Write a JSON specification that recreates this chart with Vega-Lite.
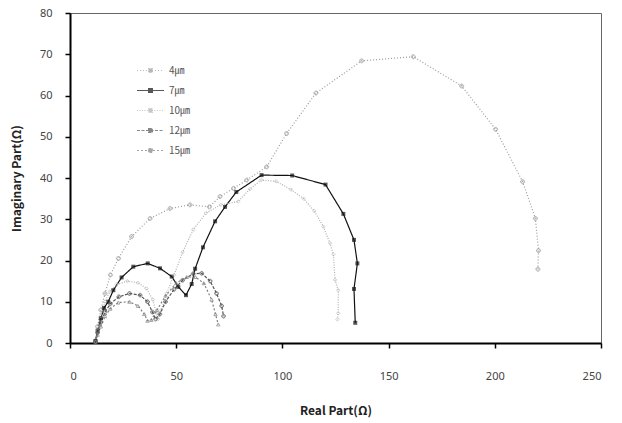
{
  "$schema": "https://vega.github.io/schema/vega-lite/v6.json",
  "width": 531,
  "height": 330,
  "autosize": "none",
  "padding": {"left": 70, "top": 13, "right": 21, "bottom": 80},
  "background": "white",
  "config": {
    "view": {"stroke": "#666", "strokeWidth": 1},
    "font": "Noto Sans"
  },
  "data": {
    "values": [
      {"s":"4㎛","i":0,"x":12,"y":0.5},{"s":"4㎛","i":1,"x":13,"y":4},{"s":"4㎛","i":2,"x":14.5,"y":8},{"s":"4㎛","i":3,"x":16.5,"y":12},{"s":"4㎛","i":4,"x":19,"y":16.5},{"s":"4㎛","i":5,"x":22.8,"y":20.5},{"s":"4㎛","i":6,"x":29,"y":25.8},{"s":"4㎛","i":7,"x":37.7,"y":30.2},{"s":"4㎛","i":8,"x":47.1,"y":32.6},{"s":"4㎛","i":9,"x":56.5,"y":33.5},{"s":"4㎛","i":10,"x":65.6,"y":33},{"s":"4㎛","i":11,"x":70.6,"y":35.5},{"s":"4㎛","i":12,"x":77,"y":37.5},{"s":"4㎛","i":13,"x":83.2,"y":39.5},{"s":"4㎛","i":14,"x":92.6,"y":42.7},{"s":"4㎛","i":15,"x":102,"y":50.8},{"s":"4㎛","i":16,"x":115.8,"y":60.6},{"s":"4㎛","i":17,"x":137.3,"y":68.4},{"s":"4㎛","i":18,"x":161.6,"y":69.4},{"s":"4㎛","i":19,"x":184.4,"y":62.3},{"s":"4㎛","i":20,"x":200.4,"y":51.8},{"s":"4㎛","i":21,"x":213.1,"y":39.1},{"s":"4㎛","i":22,"x":219.1,"y":30.2},{"s":"4㎛","i":23,"x":220.6,"y":22.4},{"s":"4㎛","i":24,"x":220.3,"y":17.9},

      {"s":"7㎛","i":0,"x":12,"y":0.5},{"s":"7㎛","i":1,"x":13,"y":3},{"s":"7㎛","i":2,"x":14.5,"y":6},{"s":"7㎛","i":3,"x":16,"y":8.5},{"s":"7㎛","i":4,"x":18,"y":10},{"s":"7㎛","i":5,"x":20.4,"y":12.8},{"s":"7㎛","i":6,"x":24.3,"y":15.9},{"s":"7㎛","i":7,"x":29.8,"y":18.5},{"s":"7㎛","i":8,"x":36.6,"y":19.3},{"s":"7㎛","i":9,"x":42.4,"y":18.1},{"s":"7㎛","i":10,"x":47.9,"y":16.1},{"s":"7㎛","i":11,"x":51,"y":13.6},{"s":"7㎛","i":12,"x":54.6,"y":11.6},{"s":"7㎛","i":13,"x":57.3,"y":14.3},{"s":"7㎛","i":14,"x":58.9,"y":18},{"s":"7㎛","i":15,"x":62.6,"y":23.2},{"s":"7㎛","i":16,"x":68.3,"y":29.5},{"s":"7㎛","i":17,"x":73,"y":33},{"s":"7㎛","i":18,"x":78.3,"y":36.6},{"s":"7㎛","i":19,"x":90.2,"y":40.7},{"s":"7㎛","i":20,"x":104.6,"y":40.6},{"s":"7㎛","i":21,"x":120.3,"y":38.4},{"s":"7㎛","i":22,"x":128.7,"y":31.3},{"s":"7㎛","i":23,"x":133.7,"y":25},{"s":"7㎛","i":24,"x":135.3,"y":19.3},{"s":"7㎛","i":25,"x":133.7,"y":13.1},{"s":"7㎛","i":26,"x":134.3,"y":4.9},

      {"s":"10㎛","i":0,"x":12,"y":0.3},{"s":"10㎛","i":1,"x":13,"y":3},{"s":"10㎛","i":2,"x":14.5,"y":6.5},{"s":"10㎛","i":3,"x":16.5,"y":10},{"s":"10㎛","i":4,"x":18.8,"y":12.5},{"s":"10㎛","i":5,"x":22,"y":14.2},{"s":"10㎛","i":6,"x":27,"y":15},{"s":"10㎛","i":7,"x":32,"y":14.6},{"s":"10㎛","i":8,"x":36,"y":13.2},{"s":"10㎛","i":9,"x":39,"y":10.5},{"s":"10㎛","i":10,"x":40.5,"y":7.5},{"s":"10㎛","i":11,"x":41.5,"y":5.8},{"s":"10㎛","i":12,"x":43,"y":8},{"s":"10㎛","i":13,"x":45.5,"y":12},{"s":"10㎛","i":14,"x":49,"y":16.5},{"s":"10㎛","i":15,"x":53,"y":22},{"s":"10㎛","i":16,"x":58,"y":27.5},{"s":"10㎛","i":17,"x":64,"y":31.5},{"s":"10㎛","i":18,"x":71,"y":33.5},{"s":"10㎛","i":19,"x":79.2,"y":34.3},{"s":"10㎛","i":20,"x":84.7,"y":37.3},{"s":"10㎛","i":21,"x":90,"y":39.5},{"s":"10㎛","i":22,"x":97,"y":39.2},{"s":"10㎛","i":23,"x":104,"y":37.2},{"s":"10㎛","i":24,"x":110,"y":35},{"s":"10㎛","i":25,"x":115,"y":32},{"s":"10㎛","i":26,"x":119.3,"y":28.2},{"s":"10㎛","i":27,"x":122.4,"y":24.2},{"s":"10㎛","i":28,"x":124,"y":21.5},{"s":"10㎛","i":29,"x":124.8,"y":15.3},{"s":"10㎛","i":30,"x":126.3,"y":12.8},{"s":"10㎛","i":31,"x":126.3,"y":7.2},{"s":"10㎛","i":32,"x":125.9,"y":5.7},

      {"s":"12㎛","i":0,"x":12,"y":0.3},{"s":"12㎛","i":1,"x":13,"y":2.5},{"s":"12㎛","i":2,"x":14.5,"y":5},{"s":"12㎛","i":3,"x":16.5,"y":7.5},{"s":"12㎛","i":4,"x":19,"y":9.5},{"s":"12㎛","i":5,"x":23,"y":11.2},{"s":"12㎛","i":6,"x":28,"y":12},{"s":"12㎛","i":7,"x":33,"y":11.6},{"s":"12㎛","i":8,"x":36.5,"y":10},{"s":"12㎛","i":9,"x":38.8,"y":7.5},{"s":"12㎛","i":10,"x":40.3,"y":5.8},{"s":"12㎛","i":11,"x":42.3,"y":7},{"s":"12㎛","i":12,"x":45,"y":10},{"s":"12㎛","i":13,"x":49,"y":13},{"s":"12㎛","i":14,"x":53,"y":15.2},{"s":"12㎛","i":15,"x":58,"y":16.8},{"s":"12㎛","i":16,"x":62,"y":16.9},{"s":"12㎛","i":17,"x":66,"y":15},{"s":"12㎛","i":18,"x":69,"y":12},{"s":"12㎛","i":19,"x":71.4,"y":9},{"s":"12㎛","i":20,"x":72.3,"y":6.5},

      {"s":"15㎛","i":0,"x":12,"y":0.3},{"s":"15㎛","i":1,"x":13,"y":2},{"s":"15㎛","i":2,"x":14.5,"y":4},{"s":"15㎛","i":3,"x":16.5,"y":6.5},{"s":"15㎛","i":4,"x":19,"y":8.3},{"s":"15㎛","i":5,"x":22.7,"y":9.8},{"s":"15㎛","i":6,"x":28,"y":10},{"s":"15㎛","i":7,"x":32,"y":9},{"s":"15㎛","i":8,"x":35,"y":7},{"s":"15㎛","i":9,"x":36.5,"y":5.4},{"s":"15㎛","i":10,"x":38.3,"y":5.6},{"s":"15㎛","i":11,"x":41,"y":8},{"s":"15㎛","i":12,"x":45,"y":11.5},{"s":"15㎛","i":13,"x":50,"y":14.5},{"s":"15㎛","i":14,"x":55,"y":16},{"s":"15㎛","i":15,"x":59,"y":16},{"s":"15㎛","i":16,"x":63,"y":14.5},{"s":"15㎛","i":17,"x":66.7,"y":10.5},{"s":"15㎛","i":18,"x":68.5,"y":7},{"s":"15㎛","i":19,"x":69.8,"y":4.5}
    ]
  },
  "encoding": {
    "x": {
      "field": "x", "type": "quantitative",
      "scale": {"domain": [0, 250], "nice": false, "zero": true},
      "axis": {
        "title": "Real Part(Ω)", "values": [0, 50, 100, 150, 200, 250], "grid": false,
        "domainColor": "#000", "domainWidth": 2, "tickColor": "#000", "tickWidth": 1.5, "tickSize": 5,
        "labelPadding": 22, "labelFontSize": 11, "labelColor": "#444", "labelFont": "Noto Sans",
        "titleFont": "Noto Sans CJK KR", "titleFontSize": 12, "titleFontWeight": "bold", "titleColor": "#222", "titlePadding": 24
      }
    },
    "y": {
      "field": "y", "type": "quantitative",
      "scale": {"domain": [0, 80], "nice": false},
      "axis": {
        "title": "Imaginary Part(Ω)", "values": [0, 10, 20, 30, 40, 50, 60, 70, 80], "grid": false,
        "domainColor": "#000", "domainWidth": 2, "tickColor": "#000", "tickWidth": 1.5, "tickSize": 5,
        "labelPadding": 13, "labelFontSize": 11, "labelColor": "#444", "labelFont": "Noto Sans",
        "titleFont": "Noto Sans CJK KR", "titleFontSize": 12, "titleFontWeight": "bold", "titleColor": "#222", "titlePadding": 16
      }
    },
    "order": {"field": "i", "type": "quantitative"},
    "color": {
      "field": "s", "type": "nominal", "sort": ["4㎛", "7㎛", "10㎛", "12㎛", "15㎛"],
      "scale": {"domain": ["4㎛", "7㎛", "10㎛", "12㎛", "15㎛"], "range": ["#9a9a9a", "#111111", "#b0b0b0", "#555555", "#808080"]},
      "legend": {
        "title": null, "orient": "none", "legendX": 66, "legendY": 43,
        "symbolType": "M-1,0H1M-0.14,-0.14H0.14V0.14H-0.14Z", "symbolSize": 729, "symbolStrokeWidth": 1.2, "symbolFillColor": "transparent",
        "labelFont": "Noto Sans CJK KR", "labelFontSize": 10, "labelColor": "#555", "rowPadding": 0, "labelOffset": 4
      }
    }
  },
  "layer": [
    {
      "mark": {"type": "line", "strokeWidth": 1.2, "interpolate": "linear"},
      "encoding": {
        "strokeDash": {
          "field": "s", "type": "nominal",
          "scale": {"domain": ["4㎛", "7㎛", "10㎛", "12㎛", "15㎛"], "range": [[1, 2], [1, 0], [1, 1.5], [3, 1.5], [2, 2]]}
        }
      }
    },
    {
      "transform": [{"filter": "datum.s === '4㎛'"}],
      "mark": {"type": "point", "shape": "cross", "filled": false, "size": 16, "strokeWidth": 1}
    },
    {
      "transform": [{"filter": "datum.s === '7㎛'"}],
      "mark": {"type": "square", "filled": true, "size": 16}
    },
    {
      "transform": [{"filter": "datum.s === '10㎛'"}],
      "mark": {"type": "point", "shape": "diamond", "filled": false, "size": 12, "strokeWidth": 0.8}
    },
    {
      "transform": [{"filter": "datum.s === '12㎛'"}],
      "mark": {"type": "point", "shape": "cross", "filled": false, "size": 14, "strokeWidth": 1}
    },
    {
      "transform": [{"filter": "datum.s === '15㎛'"}],
      "mark": {"type": "point", "shape": "triangle-up", "filled": false, "size": 12, "strokeWidth": 1}
    }
  ]
}
